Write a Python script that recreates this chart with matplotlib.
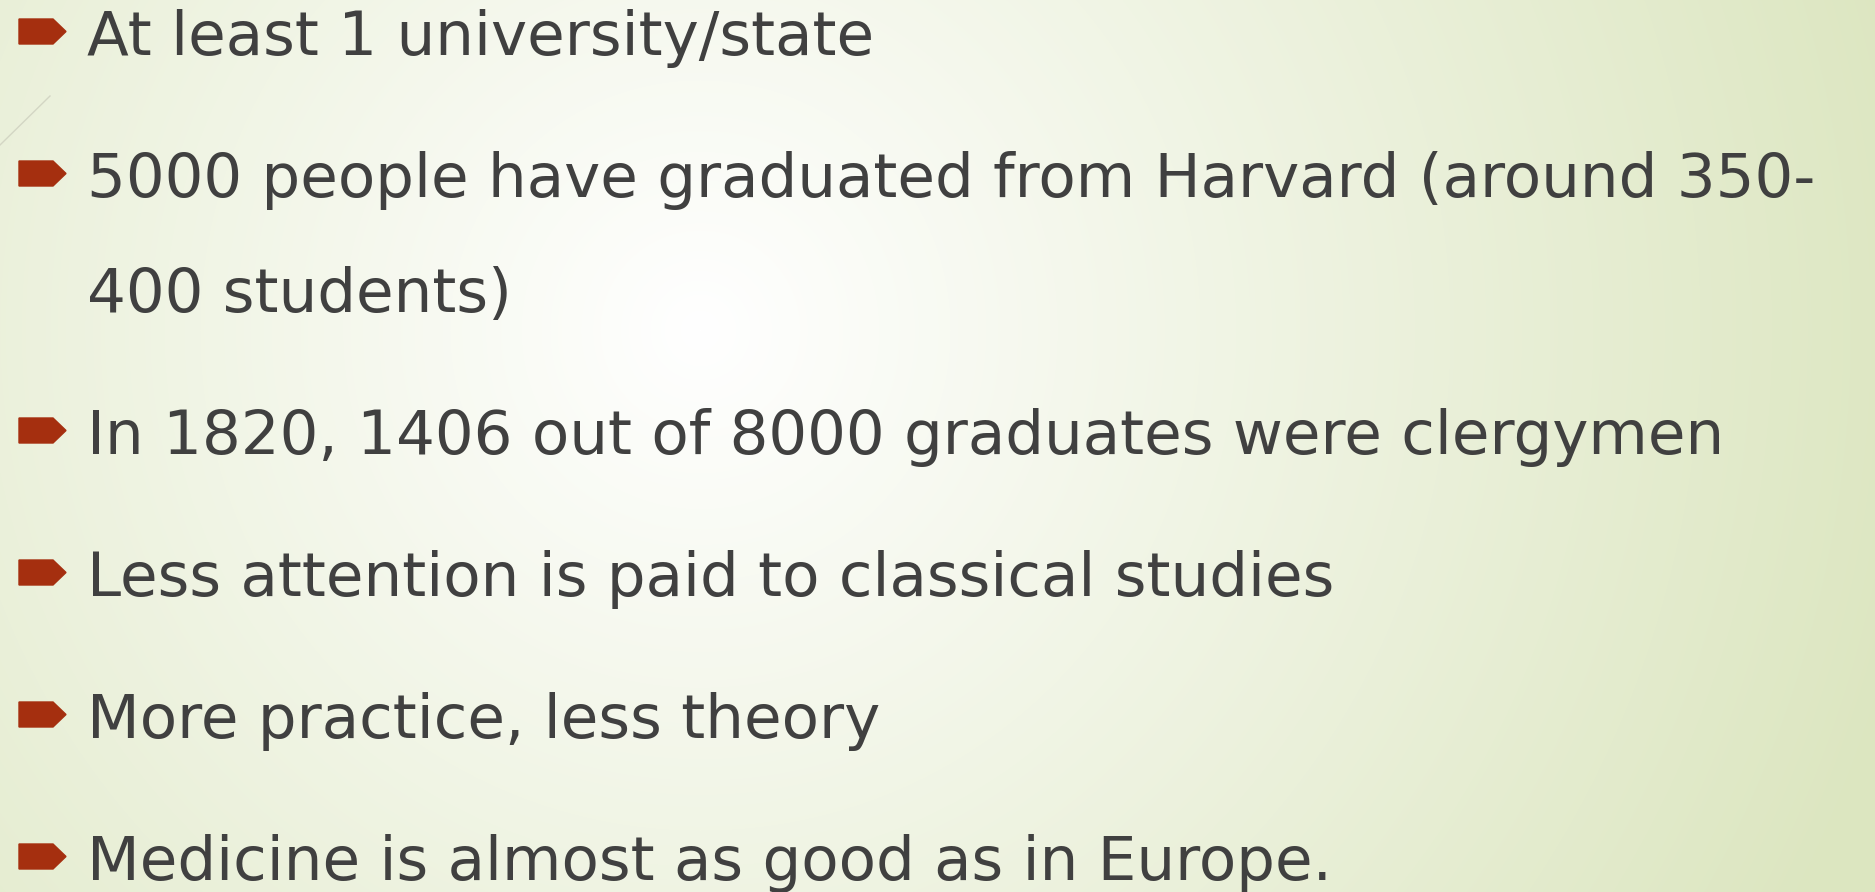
import numpy as np
import matplotlib
matplotlib.use("Agg")
import matplotlib.pyplot as plt
from matplotlib.patches import Polygon

# Slide content
lines = [
    "At least 1 university/state",
    "5000 people have graduated from Harvard (around 350-",
    "400 students)",
    "In 1820, 1406 out of 8000 graduates were clergymen",
    "Less attention is paid to classical studies",
    "More practice, less theory",
    "Medicine is almost as good as in Europe.",
]
has_bullet = [True, True, False, True, True, True, True]

text_color = "#404040"
bullet_color = "#A52F0F"
edge_green = np.array([220, 230, 192]) / 255.0

W, H = 1875, 892
fig = plt.figure(figsize=(W / 100, H / 100), dpi=100)
ax = fig.add_axes([0, 0, 1, 1])
ax.set_xlim(0, W)
ax.set_ylim(H, 0)
ax.axis("off")

# Radial background: white centre fading to pale green
yy, xx = np.mgrid[0:H, 0:W]
d = np.hypot(xx - 700, yy - 330)
t = np.clip(d / 1250.0, 0, 1)[..., None]
bg = (1 - t) * np.ones(3) + t * edge_green
ax.imshow(bg, extent=(0, W, H, 0), zorder=0, interpolation="bilinear")

# faint decorative line in the upper-left corner
ax.plot([0, 50], [145, 96], color="#D3D6C4", lw=1, zorder=1)

# Layout
text_x = 87
first_baseline = 55
item_gap = 142
wrap_gap = 115

baseline = first_baseline
for i, (txt, b) in enumerate(zip(lines, has_bullet)):
    if i > 0:
        baseline += item_gap if b else wrap_gap
    ax.text(text_x, baseline, txt, fontsize=44, color=text_color,
            family="DejaVu Sans", va="baseline", ha="left", zorder=3)
    if b:
        c = baseline - 23.5
        ax.add_patch(Polygon([(19, c - 12.5), (53, c - 12.5), (66, c),
                              (53, c + 12.5), (19, c + 12.5)],
                             closed=True, color=bullet_color, zorder=3))

fig.savefig("out.png", dpi=100)
